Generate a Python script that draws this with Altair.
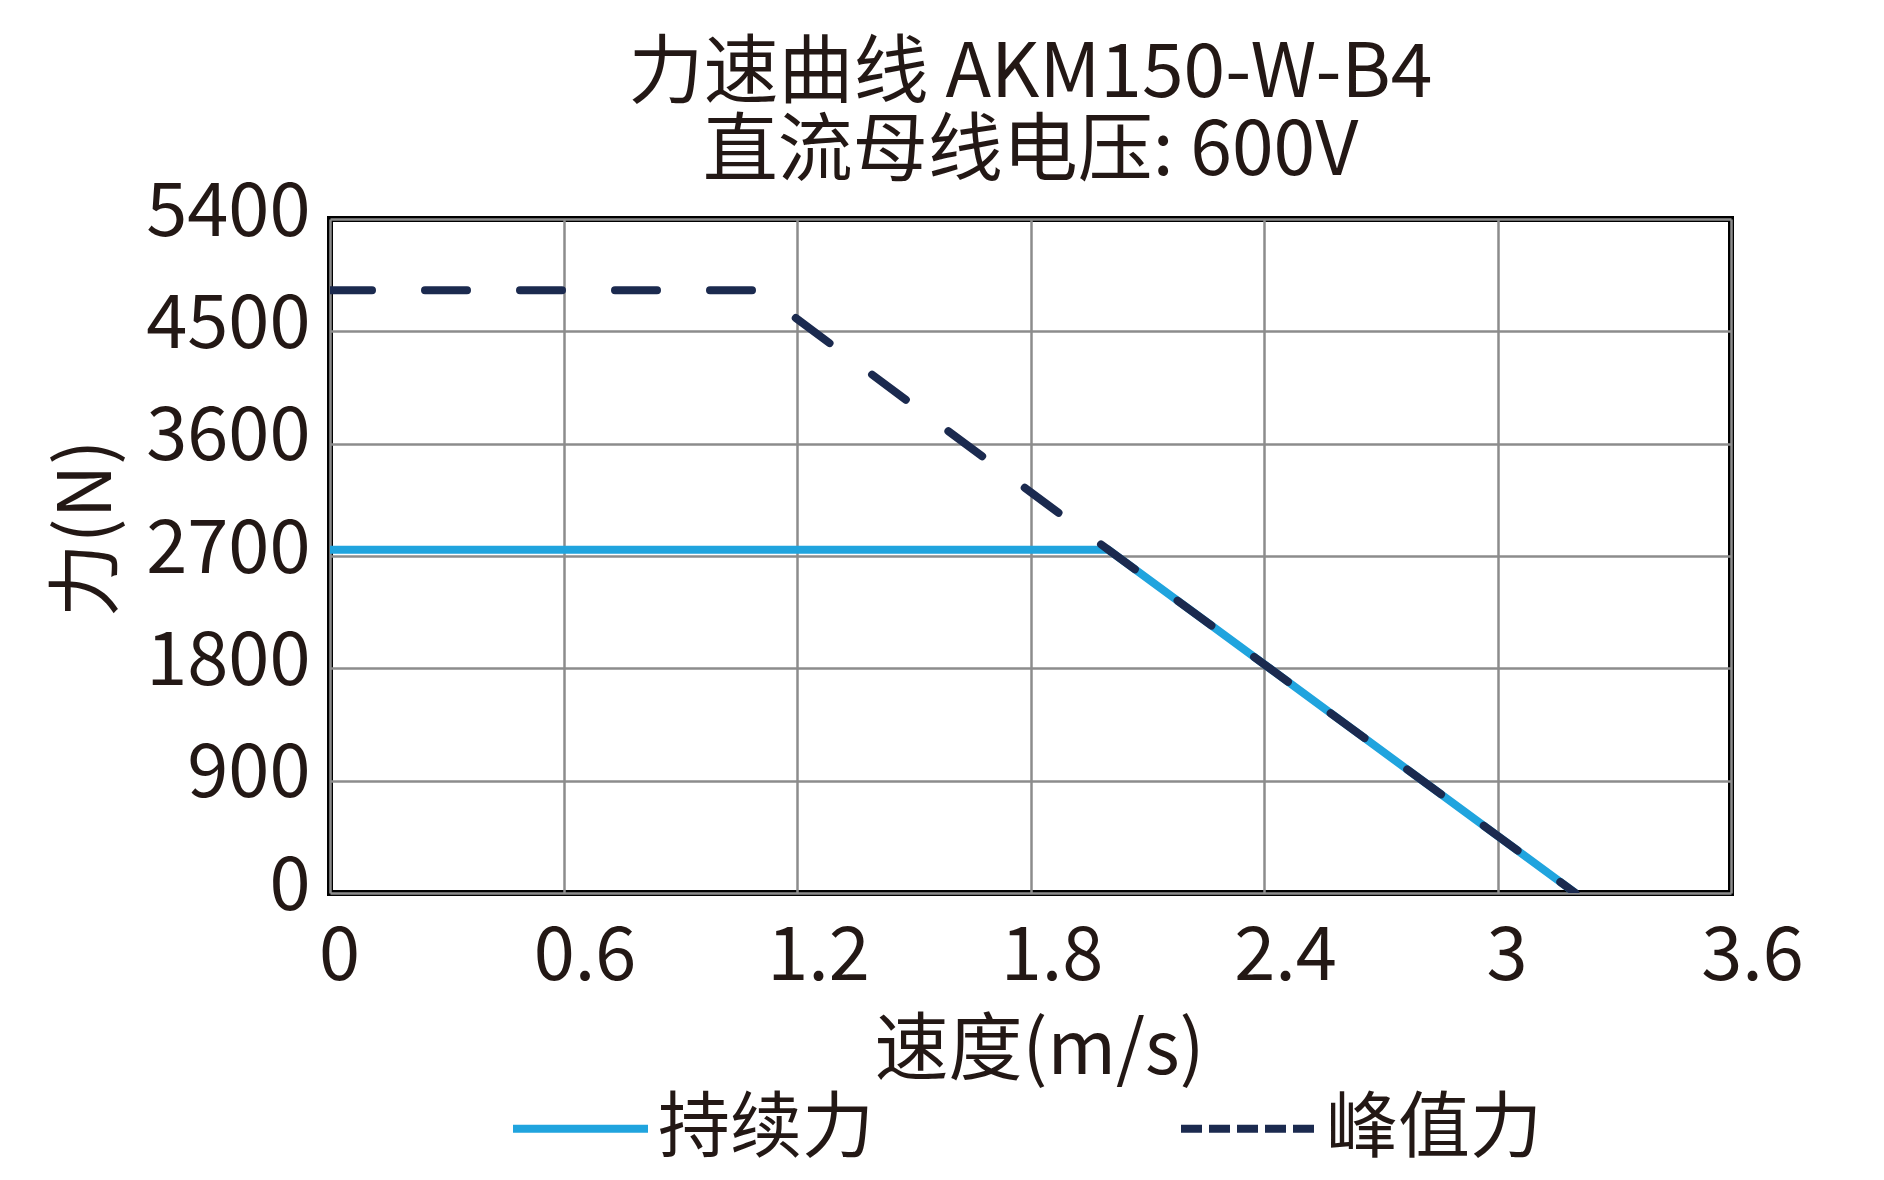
import altair as alt
import pandas as pd

# values
speed_ticks = [0, 0.6, 1.2, 1.8, 2.4, 3, 3.6]
force_ticks = [0, 900, 1800, 2700, 3600, 4500, 5400]

cont_speed = [0, 2.0, 3.2]
cont_force = [2750, 2750, 0]

peak_speed = [0, 1.1, 2.0, 3.2]
peak_force = [4830, 4830, 2750, 0]

series_names = ["持续力", "峰值力"]
series_colors = ["#20A4DE", "#1B2A4F"]

FONT = "Noto Sans CJK SC"
INK = "#231815"

cont = pd.DataFrame({"speed": cont_speed, "force": cont_force, "series": series_names[0]})
peak = pd.DataFrame({"speed": peak_speed, "force": peak_force, "series": series_names[1]})
both = pd.concat([cont, peak], ignore_index=True)

x_enc = alt.X(
    "speed:Q",
    scale=alt.Scale(domain=[0, 3.6], nice=False, zero=False),
    axis=alt.Axis(
        values=speed_ticks,
        format="~g",
        title="速度(m/s)",
        titleX=709,
        titleY=158,
        titleBaseline="middle",
        labelPadding=28,
        labelOffset={"condition": {"test": "datum.value % 1 === 0", "value": 9}, "value": 21},
        labelFlush=False,
    ),
)
y_enc = alt.Y(
    "force:Q",
    scale=alt.Scale(domain=[0, 5400], nice=False),
    axis=alt.Axis(
        values=force_ticks,
        format="d",
        title="力(N)",
        titleX=-242,
        titleY=309,
        titleAlign="center",
        titleBaseline="middle",
        labelPadding=20,
        labelOffset=-6,
    ),
)

cont_line = alt.Chart(cont).mark_line(
    color=series_colors[0], strokeWidth=8, clip=True
).encode(x=x_enc, y=y_enc, order="speed:Q")

peak_line = alt.Chart(peak).mark_line(
    color=series_colors[1], strokeWidth=8, strokeDash=[42, 53], strokeCap="round", clip=True
).encode(x=x_enc, y=y_enc, order="speed:Q")

# invisible layer that only carries the legend
legend_layer = alt.Chart(both).mark_line(opacity=0).encode(
    x=x_enc,
    y=y_enc,
    color=alt.Color(
        "series:N",
        scale=alt.Scale(domain=series_names, range=series_colors),
        legend=alt.Legend(
            title=None,
            orient="none",
            direction="horizontal",
            legendX=179,
            legendY=838,
            columnPadding=290,
            symbolType="stroke",
            symbolSize=18225,
            symbolStrokeWidth=8,
            symbolOpacity=1,
            labelFont=FONT,
            labelFontSize=72,
            labelColor=INK,
            labelOffset=6,
            labelLimit=400,
            padding=0,
        ),
    ),
    strokeDash=alt.StrokeDash(
        "series:N",
        scale=alt.Scale(domain=series_names, range=[[1, 0], [21, 7]]),
        legend=None,
    ),
)

chart = (
    alt.layer(cont_line, peak_line, legend_layer)
    .properties(
        width=1401,
        height=674,
        background="white",
        autosize=alt.AutoSizeParams(type="none"),
        padding={"left": 322, "top": 211, "right": 145, "bottom": 279},
        title=alt.Title(
            ["力速曲线 AKM150-W-B4", "直流母线电压: 600V"],
            font=FONT,
            fontSize=75,
            fontWeight="normal",
            lineHeight=78,
            color=INK,
            anchor="middle",
            offset=-15,
        ),
    )
    .configure_view(stroke="#000000", strokeWidth=6)
    .configure_axis(
        domain=False,
        ticks=False,
        grid=True,
        gridColor="#8C8C8C",
        gridWidth=2.5,
        labelFont=FONT,
        labelFontSize=74,
        labelColor=INK,
        titleFont=FONT,
        titleFontSize=74,
        titleFontWeight="normal",
        titleColor=INK,
    )
)

chart.save("out.html", embed_options={"renderer": "svg", "actions": False})
